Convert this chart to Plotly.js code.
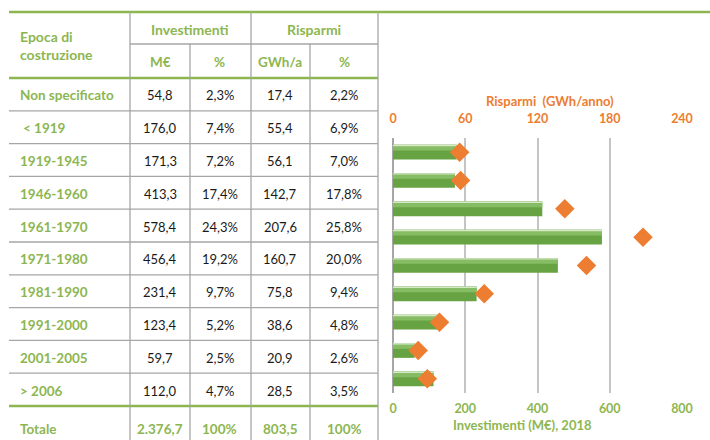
<!DOCTYPE html>
<html>
<head>
<meta charset="utf-8">
<script src="https://cdn.plot.ly/plotly-3.0.1.min.js"></script>
<style>
  html, body { margin: 0; padding: 0; background: #fff; }
  #chart { width: 710px; height: 440px; }
</style>
</head>
<body>
<div id="chart"></div>
<script>
const categories = ['Non specificato', '< 1919', '1919-1945', '1946-1960', '1961-1970',
                    '1971-1980', '1981-1990', '1991-2000', '2001-2005', '> 2006'];
const investimenti = [54.8, 176.0, 171.3, 413.3, 578.4, 456.4, 231.4, 123.4, 59.7, 112.0];
const investPct = [2.3, 7.4, 7.2, 17.4, 24.3, 19.2, 9.7, 5.2, 2.5, 4.7];
const risparmi = [17.4, 55.4, 56.1, 142.7, 207.6, 160.7, 75.8, 38.6, 20.9, 28.5];
const rispPct = [2.2, 6.9, 7.0, 17.8, 25.8, 20.0, 9.4, 4.8, 2.6, 3.5];
const totals = ['2.376,7', '100%', '803,5', '100%'];
const investTicks = [0, 200, 400, 600, 800];
const rispTicks = [0, 60, 120, 180, 240];

const W = 710, H = 440;
const GREEN = '#8db651';
const ORANGE = '#ed7d31';
const GRID = '#a6a6a6';
const FONT = 'Lato, "Open Sans", sans-serif';

// pixel -> paper helpers (margins are 0)
const px = v => v / W;
const py = v => 1 - v / H;

function fmt(v) { return v.toFixed(1).replace('.', ','); }

const shapes = [];
const annotations = [];

function hline(y, x0, x1, color, width) {
    shapes.push({type: 'line', xref: 'paper', yref: 'paper',
        x0: px(x0), x1: px(x1), y0: py(y), y1: py(y),
        line: {color: color, width: width}});
}
function vline(x, y0, y1) {
    shapes.push({type: 'line', xref: 'paper', yref: 'paper',
        x0: px(x), x1: px(x), y0: py(y0), y1: py(y1),
        line: {color: GRID, width: 1.3}});
}
function text(t, x, y, opts) {
    opts = opts || {};
    annotations.push({xref: 'paper', yref: 'paper', x: px(x), y: py(y),
        text: t, showarrow: false, xanchor: opts.anchor || 'center', yanchor: 'middle',
        align: opts.anchor === 'left' ? 'left' : 'center',
        font: {family: FONT, size: opts.size || 13, color: opts.color || '#1a1a1a',
               weight: opts.bold ? 700 : 400}});
}

// table grid
const colC = [160, 220, 280, 344];
const rowTop = 78, rowH = 32.8;

hline(12, 9, W, GREEN, 2.5);
hline(44, 130, 378, GRID, 1.3);
hline(rowTop, 9, 378, GREEN, 2.5);
for (let i = 1; i < categories.length; i++) {
    hline(rowTop + i * rowH, 9, 378, GRID, 1.3);
}
hline(rowTop + categories.length * rowH, 9, 378, GREEN, 2.5);
vline(130, 12, H);
vline(251, 12, H);
vline(378, 12, H);
vline(190, 44, H);
vline(310, 44, H);

// header text
text('Epoca di<br>costruzione', 18, 45, {anchor: 'left', color: GREEN, bold: true, size: 14});
text('Investimenti', 190, 29, {color: GREEN, bold: true, size: 14});
text('Risparmi', 314, 29, {color: GREEN, bold: true, size: 14});
['M€', '%', 'GWh/a', '%'].forEach((t, j) => text(t, colC[j], 62, {color: GREEN, bold: true, size: 13.5}));

// body rows
categories.forEach((c, i) => {
    const y = rowTop + (i + 0.5) * rowH + 1;
    text(c, c[0] === '<' ? 21 : 18, y, {anchor: 'left', color: GREEN, bold: true, size: 13.5});
    text(fmt(investimenti[i]), colC[0], y);
    text(fmt(investPct[i]) + '%', colC[1], y);
    text(fmt(risparmi[i]), colC[2], y);
    text(fmt(rispPct[i]) + '%', colC[3], y);
});
const totY = 429;
text('Totale', 18, totY, {anchor: 'left', color: GREEN, bold: true, size: 13.5});
totals.forEach((t, j) => text(t, colC[j], totY, {color: GREEN, bold: true, size: 13.5}));

// chart titles
text('Risparmi  (GWh/anno)', 550, 101, {color: ORANGE, bold: true, size: 13});
text('Investimenti (M€), 2018', 522, 425, {color: GREEN, bold: true, size: 13});

// chart data (without "Non specificato")
const chartCats = categories.slice(1);
const chartInv = investimenti.slice(1);
const chartRisp = risparmi.slice(1);

const traces = [
    {type: 'bar', orientation: 'h', x: chartInv, y: chartCats,
     width: 0.52, offset: -0.26, marker: {color: '#67a343'}, hoverinfo: 'x'},
    {type: 'bar', orientation: 'h', x: chartInv, y: chartCats,
     width: 0.2, offset: -0.26, marker: {color: '#86bd64'}, hoverinfo: 'skip'},
    {type: 'bar', orientation: 'h', x: chartInv, y: chartCats,
     width: 0.05, offset: -0.26, marker: {color: '#d5e8c8'}, hoverinfo: 'skip'},
    {type: 'scatter', mode: 'markers', x: chartRisp, y: chartCats, xaxis: 'x2',
     marker: {symbol: 'diamond', size: 15, color: ORANGE}}
];

const layout = {
    width: W, height: H,
    margin: {l: 0, r: 0, t: 0, b: 0},
    paper_bgcolor: '#fff', plot_bgcolor: 'rgba(0,0,0,0)',
    showlegend: false,
    barmode: 'overlay',
    xaxis: {
        domain: [px(393), px(682)], range: [0, 800], tickvals: investTicks,
        showgrid: true, gridcolor: '#c4c4c4', gridwidth: 2,
        zeroline: true, zerolinecolor: '#a6a6a6', zerolinewidth: 2,
        showline: false, ticks: '', ticklabelstandoff: 6,
        tickfont: {family: FONT, size: 12.5, color: GREEN, weight: 700},
        fixedrange: true
    },
    xaxis2: {
        overlaying: 'x', side: 'top', anchor: 'y', range: [0, 240], tickvals: rispTicks,
        showgrid: false, zeroline: false, showline: false, ticks: '', ticklabelstandoff: 12,
        tickfont: {family: FONT, size: 12.5, color: ORANGE, weight: 700},
        fixedrange: true
    },
    yaxis: {
        domain: [py(393), py(138)], type: 'category', autorange: false, range: [8.5, -0.5],
        showticklabels: false, showgrid: false, zeroline: false, showline: false, ticks: '',
        fixedrange: true
    },
    shapes: shapes,
    annotations: annotations
};

Plotly.newPlot('chart', traces, layout, {displayModeBar: false, staticPlot: true});
</script>
</body>
</html>
